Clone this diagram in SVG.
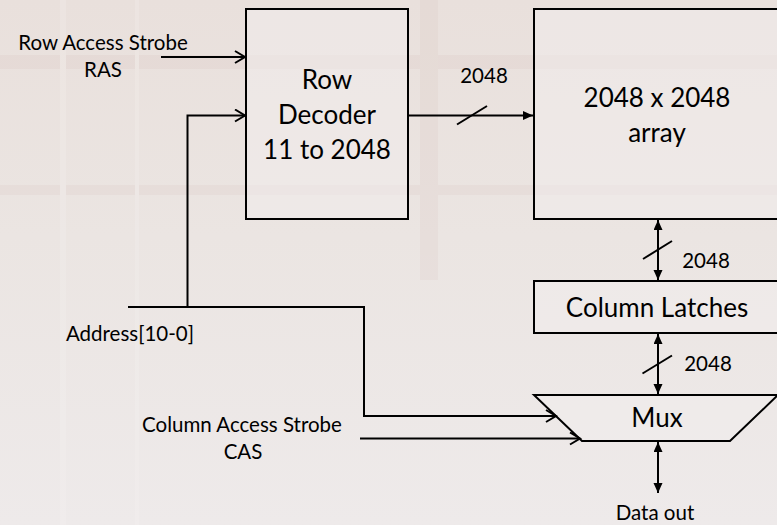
<svg xmlns="http://www.w3.org/2000/svg" width="777" height="525" viewBox="0 0 777 525">
<defs>
<linearGradient id="bg" x1="0" y1="0" x2="0" y2="1">
<stop offset="0" stop-color="#e9e0dc"/>
<stop offset="0.45" stop-color="#ebe5e2"/>
<stop offset="1" stop-color="#eeeaea"/>
</linearGradient>
<marker id="fill" markerUnits="userSpaceOnUse" markerWidth="12" markerHeight="10" refX="10" refY="4.5" orient="auto-start-reverse">
<path d="M0,0 L10,4.5 L0,9 z" fill="#000"/>
</marker>
<marker id="open" markerUnits="userSpaceOnUse" markerWidth="14" markerHeight="16" refX="11" refY="7" orient="auto">
<path d="M1,1 L11,7 L1,13" fill="none" stroke="#000" stroke-width="2"/>
</marker>
</defs>
<style>
.box{fill:#f2eeee;fill-opacity:0.5;stroke:#000;stroke-width:2}
.ln{fill:none;stroke:#000;stroke-width:2}
.t{font-family:Lato,"Open Sans",sans-serif;fill:#000;text-anchor:middle}
.big{font-size:26px}
.lab{font-size:20.5px}
</style>
<rect width="777" height="525" fill="url(#bg)"/>
<g opacity="0.18">
<rect x="0" y="55" width="777" height="14" fill="#d6bdb8"/>
<rect x="0" y="185" width="777" height="10" fill="#d6c2bc"/>
<rect x="60" y="0" width="6" height="525" fill="#fbf9f8"/>
<rect x="135" y="0" width="4" height="525" fill="#fbf9f8"/>
<rect x="420" y="0" width="18" height="280" fill="#d6c2bc"/>
</g>

<g id="row-decoder">
<rect class="box" x="246" y="9" width="162" height="210"/>
<text class="t big" x="327" y="89">Row</text>
<text class="t big" x="327" y="124">Decoder</text>
<text class="t big" x="327" y="159">11 to 2048</text>
</g>
<g id="array">
<rect class="box" x="534" y="9" width="260" height="210"/>
<text class="t big" x="657" y="107">2048 x 2048</text>
<text class="t big" x="657" y="142">array</text>
</g>
<g id="column-latches">
<rect class="box" x="534" y="281" width="260" height="52"/>
<text class="t big" x="657" y="317">Column Latches</text>
</g>
<g id="mux">
<path class="box" d="M534,395 L778,395 L730,441 L582,441 Z"/>
<text class="t big" x="657" y="427">Mux</text>
</g>
<g id="labels">
<text class="t lab" x="103" y="50">Row Access Strobe</text>
<text class="t lab" x="103" y="77">RAS</text>
<text class="t lab" x="130" y="341">Address[10-0]</text>
<text class="t lab" x="242" y="432">Column Access Strobe</text>
<text class="t lab" x="243" y="459">CAS</text>
<text class="t lab" x="655" y="520">Data out</text>
<text class="t lab" x="484" y="83">2048</text>
<text class="t lab" x="706" y="268">2048</text>
<text class="t lab" x="708" y="371">2048</text>
</g>
<g id="connectors">
<line class="ln" x1="161" y1="57" x2="245" y2="57" marker-end="url(#open)"/>
<polyline class="ln" points="187.5,307 187.5,115.5 245,115.5" marker-end="url(#open)"/>
<polyline class="ln" points="128,307 364,307 364,416 556,416" marker-end="url(#open)"/>
<line class="ln" x1="360" y1="438.5" x2="580" y2="438.5" marker-end="url(#open)"/>
<line class="ln" x1="409" y1="115.5" x2="533" y2="115.5" marker-end="url(#fill)"/>
<line class="ln" x1="457" y1="124.5" x2="487" y2="106"/>
<line class="ln" x1="658" y1="220" x2="658" y2="280" marker-start="url(#fill)" marker-end="url(#fill)"/>
<line class="ln" x1="643" y1="259" x2="672" y2="241"/>
<line class="ln" x1="658" y1="334" x2="658" y2="394" marker-start="url(#fill)" marker-end="url(#fill)"/>
<line class="ln" x1="642.5" y1="373.5" x2="672" y2="355.5"/>
<line class="ln" x1="658" y1="442" x2="658" y2="493" marker-start="url(#fill)" marker-end="url(#fill)"/>
</g>
</svg>
